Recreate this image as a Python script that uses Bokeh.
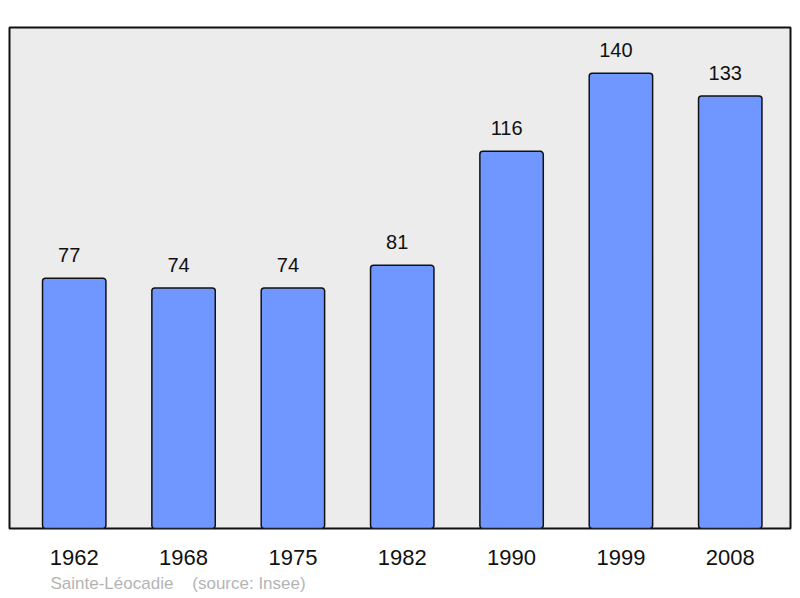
from bokeh.plotting import figure
from bokeh.models import Range1d, FixedTicker, Title, ColumnDataSource
from bokeh.core.properties import value
from bokeh.embed import file_html
from bokeh.resources import INLINE

years = ["1962", "1968", "1975", "1982", "1990", "1999", "2008"]
population = [77, 74, 74, 81, 116, 140, 133]
place = "Sainte-Léocadie"
source_note = "(source: Insee)"

xs = list(range(len(years)))
src = ColumnDataSource(dict(x=xs, top=population, lab=[str(v) for v in population]))

p = figure(width=800, height=598, output_backend="svg", toolbar_location=None,
           x_range=Range1d(-0.592, 6.551), y_range=Range1d(0, 154.1),
           min_border_left=9, min_border_right=10, min_border_top=27, min_border_bottom=70)
p.background_fill_color = "#ececec"
p.border_fill_color = "white"
p.outline_line_color = "#111111"
p.outline_line_width = 2
p.grid.visible = False
p.yaxis.visible = False

p.vbar(x="x", top="top", width=0.58, bottom=0, source=src,
       fill_color="#7096ff", line_color="#111111", line_width=1.5, border_radius=3)
p.text(x="x", y="top", text="lab", source=src, text_align="center",
       text_baseline="alphabetic", y_offset=-23, x_offset=-5,
       text_font=value("Liberation Sans"), text_font_size="20px", text_color="#111111")

ax = p.xaxis[0]
ax.ticker = FixedTicker(ticks=xs)
ax.major_label_overrides = {i: y for i, y in zip(xs, years)}
ax.axis_line_color = None
ax.major_tick_line_color = None
ax.minor_tick_line_color = None
ax.major_tick_out = 0
ax.major_tick_in = 0
ax.major_label_standoff = 21
ax.major_label_text_font = "Liberation Sans"
ax.major_label_text_font_size = "22px"
ax.major_label_text_color = "#111111"

footer = Title(text=place + "\u00a0\u00a0\u00a0\u00a0" + source_note, align="left", offset=41,
               text_font="Liberation Sans", text_font_size="17px", text_font_style="normal",
               text_color="#b4b4b4", standoff=8)
p.add_layout(footer, "below")

open("out.html", "w").write(file_html(p, INLINE))
